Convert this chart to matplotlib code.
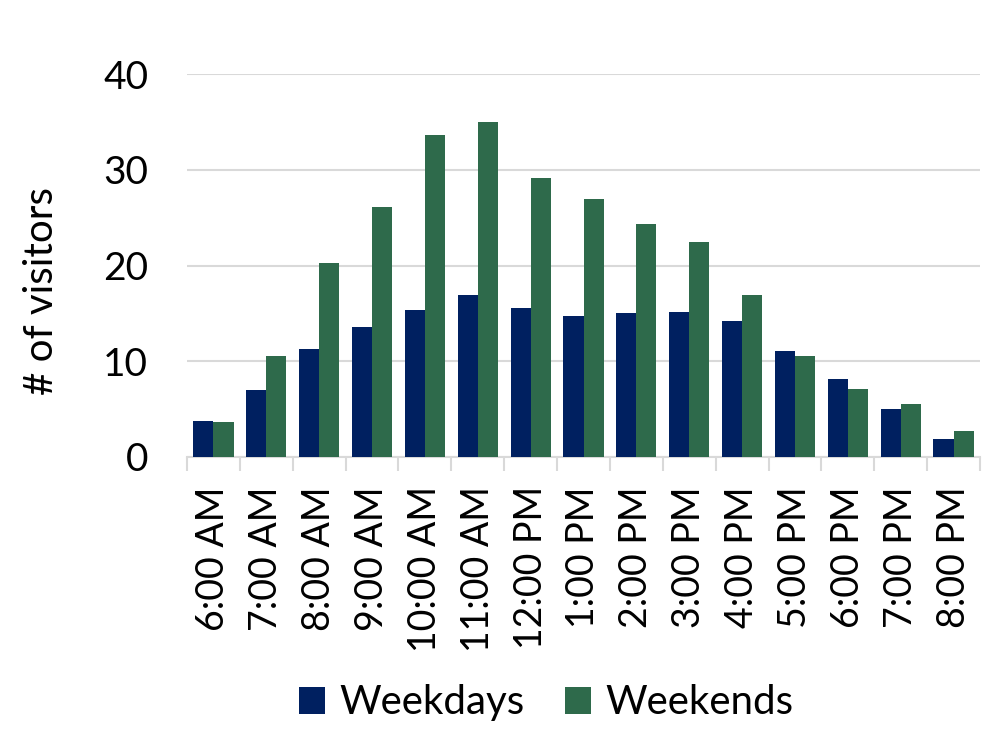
import matplotlib.pyplot as plt
import numpy as np

plt.rcParams['font.family'] = ['Lato', 'DejaVu Sans']

# horas y valores
hours = ['6:00 AM', '7:00 AM', '8:00 AM', '9:00 AM', '10:00 AM', '11:00 AM',
         '12:00 PM', '1:00 PM', '2:00 PM', '3:00 PM', '4:00 PM', '5:00 PM',
         '6:00 PM', '7:00 PM', '8:00 PM']
weekdays = [3.8, 7.0, 11.3, 13.6, 15.4, 16.9, 15.6, 14.7, 15.0, 15.2, 14.2, 11.1, 8.1, 5.0, 1.9]
weekends = [3.7, 10.6, 20.3, 26.1, 33.6, 35.0, 29.2, 27.0, 24.4, 22.5, 16.9, 10.6, 7.1, 5.5, 2.7]

color_wd = '#002060'
color_we = '#2E6A4B'
grid_color = '#D9D9D9'

fig = plt.figure(figsize=(10, 7.5), dpi=100)
ax = fig.add_axes([0.187, 0.3907, 0.793, 0.5103])

x = np.arange(len(hours))
w = 0.38
ax.bar(x - w / 2, weekdays, width=w, color=color_wd, label='Weekdays', zorder=3)
ax.bar(x + w / 2, weekends, width=w, color=color_we, label='Weekends', zorder=3)

ax.set_xlim(-0.5, len(hours) - 0.5)
ax.set_ylim(0, 40)
ax.set_yticks([0, 10, 20, 30, 40])
ax.yaxis.grid(True, color=grid_color, linewidth=1.5, zorder=0)
ax.set_axisbelow(True)

for s in ['top', 'right', 'left']:
    ax.spines[s].set_visible(False)
ax.spines['bottom'].set_color(grid_color)
ax.spines['bottom'].set_linewidth(1.5)

# etiquetas centradas, marcas entre categorías
ax.set_xticks(x)
ax.set_xticklabels(hours, rotation=90, va='top', ha='center')
ax.set_xticks(np.arange(len(hours) + 1) - 0.5, minor=True)
ax.tick_params(axis='x', which='major', length=0, pad=21, labelsize=27)
ax.tick_params(axis='x', which='minor', length=10, width=1.5, color=grid_color)
ax.tick_params(axis='y', length=0, pad=28, labelsize=28)

ax.set_ylabel('# of visitors', fontsize=29)
ax.yaxis.set_label_coords(-0.160, 0.433)

fig.legend(loc='center', bbox_to_anchor=(0.546, 0.0627), ncol=2, frameon=False,
           fontsize=29, handlelength=0.65, handleheight=0.65, handletextpad=0.35,
           columnspacing=1.0)

fig.savefig('out.png', dpi=100)
